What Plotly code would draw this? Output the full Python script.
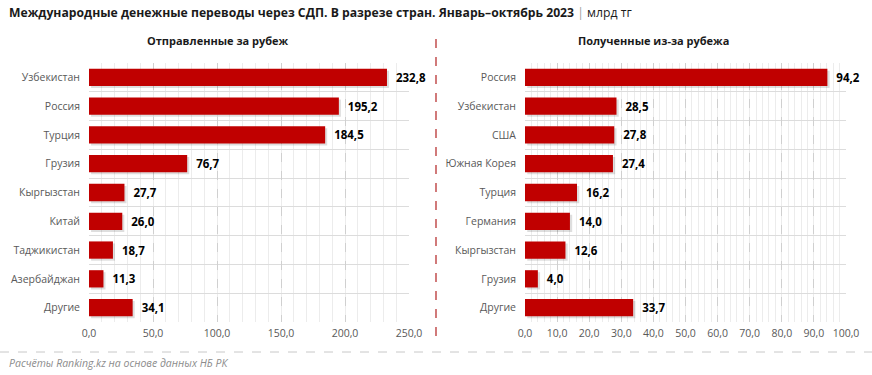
import plotly.graph_objects as go

sent_countries = ["Узбекистан", "Россия", "Турция", "Грузия", "Кыргызстан", "Китай", "Таджикистан", "Азербайджан", "Другие"]
sent_values = [232.8, 195.2, 184.5, 76.7, 27.7, 26.0, 18.7, 11.3, 34.1]

recv_countries = ["Россия", "Узбекистан", "США", "Южная Корея", "Турция", "Германия", "Кыргызстан", "Грузия", "Другие"]
recv_values = [94.2, 28.5, 27.8, 27.4, 16.2, 14.0, 12.6, 4.0, 33.7]

left_ticks = [0, 50, 100, 150, 200, 250]
right_ticks = [0, 10, 20, 30, 40, 50, 60, 70, 80, 90, 100]

RED = "#C00000"
FONT = "Open Sans"

fig = go.Figure()

def add_panel(cats, vals, xa, ya, shadow_shift):
    idx = list(range(len(cats)))
    fig.add_trace(go.Bar(
        x=vals, y=idx, orientation="h", base=shadow_shift,
        marker=dict(color="rgba(0,0,0,0.13)", line=dict(width=0)),
        width=0.6, offset=-0.23, hoverinfo="skip", showlegend=False,
        xaxis=xa, yaxis=ya,
    ))
    fig.add_trace(go.Bar(
        x=vals, y=idx, orientation="h",
        marker=dict(color=RED, line=dict(width=0)),
        width=0.6, offset=-0.3,
        text=vals, texttemplate="  %{x:.1f}", textposition="outside",
        textfont=dict(family=FONT, size=11.5, color="#000000", weight="bold"),
        cliponaxis=False, showlegend=False,
        xaxis=xa, yaxis=ya,
    ))

add_panel(sent_countries, sent_values, "x", "y", 1.6)
add_panel(recv_countries, recv_values, "x2", "y2", 0.7)

ydom = [1 - 322 / 375, 1 - 63 / 375]

def xaxis_cfg(dom, ticks, rng, minor_step, anchor):
    return dict(
        domain=dom, range=rng, tickvals=ticks, tickformat=".1f", anchor=anchor,
        automargin=False, ticklabelstandoff=3,
        showgrid=True, gridcolor="#d0d0d0", griddash="dash", gridwidth=1,
        zeroline=False, showline=False, ticks="",
        tickfont=dict(family=FONT, size=10.5, color="#595959"),
        minor=dict(dtick=minor_step, showgrid=True, gridcolor="#ececec", gridwidth=1,
                   griddash="solid", ticks=""),
        fixedrange=True,
    )

def yaxis_cfg(cats, anchor):
    return dict(
        domain=ydom, anchor=anchor, range=[len(cats) - 0.5, -0.5],
        tickvals=list(range(len(cats))), ticktext=cats,
        automargin=False,
        showgrid=False, zeroline=False, showline=False, ticks="",
        ticklabelstandoff=8,
        tickfont=dict(family=FONT, size=10.5, color="#595959"),
        minor=dict(tickvals=[i - 0.5 for i in range(len(cats) + 1)], showgrid=True,
                   gridcolor="#dcdcdc", gridwidth=1, griddash="solid", ticks=""),
        fixedrange=True,
    )

fig.update_layout(
    width=872, height=375,
    margin=dict(l=0, r=0, t=0, b=0),
    paper_bgcolor="white", plot_bgcolor="white",
    separators=", ",
    barmode="overlay",
    font=dict(family=FONT),
    xaxis=xaxis_cfg([89 / 872, 409 / 872], left_ticks, [0, 250], 10, "y"),
    yaxis=yaxis_cfg(sent_countries, "x"),
    xaxis2=xaxis_cfg([525 / 872, 846 / 872], right_ticks, [0, 100], 2, "y2"),
    yaxis2=yaxis_cfg(recv_countries, "x2"),
)

fig.add_annotation(
    xref="paper", yref="paper", x=7 / 872, y=1 - 12 / 375, xanchor="left", yanchor="middle",
    text="<b>Международные денежные переводы через СДП. В разрезе стран. Январь–октябрь 2023</b> "
         "<span style='color:#a0a0a0'>|</span> млрд тг",
    showarrow=False, font=dict(family=FONT, size=12.2, color="#1a1a1a"),
)
fig.add_annotation(
    xref="paper", yref="paper", x=218 / 872, y=1 - 40 / 375, xanchor="center", yanchor="middle",
    text="<b>Отправленные за рубеж</b>", showarrow=False,
    font=dict(family=FONT, size=11, color="#1a1a1a"),
)
fig.add_annotation(
    xref="paper", yref="paper", x=653 / 872, y=1 - 40 / 375, xanchor="center", yanchor="middle",
    text="<b>Полученные из-за рубежа</b>", showarrow=False,
    font=dict(family=FONT, size=11, color="#1a1a1a"),
)
fig.add_annotation(
    xref="paper", yref="paper", x=7 / 872, y=1 - 363 / 375, xanchor="left", yanchor="middle",
    text="<i>Расчёты Ranking.kz на основе данных НБ РК</i>", showarrow=False,
    font=dict(family=FONT, size=10.5, color="#8c8c8c"),
)

fig.add_shape(type="line", xref="paper", yref="paper",
              x0=436 / 872, x1=436 / 872, y0=1 - 336 / 375, y1=1 - 33 / 375,
              line=dict(color="#b22222", width=1.2, dash="dash"))
fig.add_shape(type="line", xref="paper", yref="paper",
              x0=0, x1=1, y0=1 - 352 / 375, y1=1 - 352 / 375,
              line=dict(color="#c8c8c8", width=1, dash="dash"))

fig.write_html(
    "out.html",
    config={"displayModeBar": False},
    post_script=(
        "document.documentElement.style.overflow='hidden';"
        "document.body.style.margin='0';"
        "document.body.style.overflow='hidden';"
    ),
)
